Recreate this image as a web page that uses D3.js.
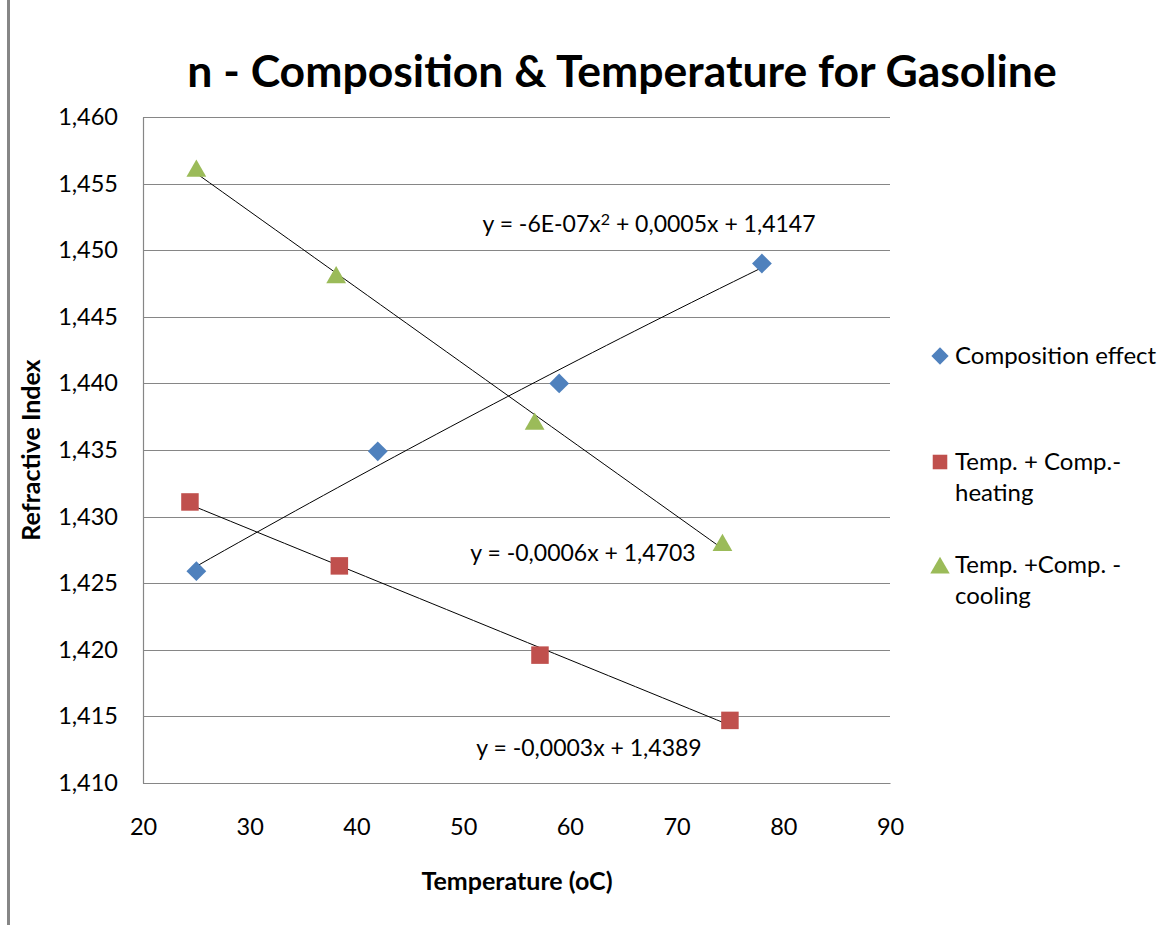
<!DOCTYPE html>
<html>
<head>
<meta charset="utf-8">
<script src="https://cdn.jsdelivr.net/npm/d3@7"></script>
<style>
  html, body { margin: 0; padding: 0; background: #fff; }
  svg { display: block; font-family: Lato, "Open Sans", sans-serif; }
</style>
</head>
<body>
<svg id="chart" width="1162" height="925"></svg>
<script>
// Refractive index of gasoline vs temperature, three series
const compTemp   = [25, 42, 59, 78];
const compIndex  = [1.4259, 1.4349, 1.4400, 1.4490];
const heatTemp   = [24.4, 38.4, 57.2, 75.0];
const heatIndex  = [1.4311, 1.4263, 1.4196, 1.4147];
const coolTemp   = [25.0, 38.1, 56.7, 74.3];
const coolIndex  = [1.4561, 1.4481, 1.4371, 1.4280];

const seriesNames  = ["Composition effect", "Temp. + Comp.-\nheating", "Temp. +Comp. -\ncooling"];
const trendDegree  = [2, 1, 1];
// equation text split into [text, superscript] pieces
const trendLabels  = [
  [["y = -6E-07x", false], ["2", true], [" + 0,0005x + 1,4147", false]],
  [["y = -0,0003x + 1,4389", false]],
  [["y = -0,0006x + 1,4703", false]]
];
const xTicks = [20, 30, 40, 50, 60, 70, 80, 90];
const yTicks = [1.410, 1.415, 1.420, 1.425, 1.430, 1.435, 1.440, 1.445, 1.450, 1.455, 1.460];

const colors  = ["#4F81BD", "#C0504D", "#9BBB59"];
const symbols = [d3.symbolDiamond2, d3.symbolSquare2, d3.symbolTriangle2];

const series = [
  { name: seriesNames[0], xs: compTemp, ys: compIndex, deg: trendDegree[0], eq: trendLabels[0] },
  { name: seriesNames[1], xs: heatTemp, ys: heatIndex, deg: trendDegree[1], eq: trendLabels[1] },
  { name: seriesNames[2], xs: coolTemp, ys: coolIndex, deg: trendDegree[2], eq: trendLabels[2] }
];

const svg = d3.select("#chart");
const plot = { left: 143, right: 890, top: 117, bottom: 783 };

const x = d3.scaleLinear().domain([20, 90]).range([plot.left, plot.right]);
const y = d3.scaleLinear().domain([1.410, 1.460]).range([plot.bottom, plot.top]);
const fmtY = v => d3.format(".3f")(v).replace(".", ",");

// chart-area edge on the left
svg.append("line")
  .attr("x1", 8.5).attr("x2", 8.5).attr("y1", 0).attr("y2", 925)
  .attr("stroke", "#868686").attr("stroke-width", 3);

// title
svg.append("text")
  .attr("x", 622).attr("y", 87)
  .attr("text-anchor", "middle")
  .attr("font-size", 44.5).attr("font-weight", "bold")
  .text("n - Composition & Temperature for Gasoline");

// horizontal gridlines
svg.append("g").selectAll("line").data(yTicks).join("line")
  .attr("x1", plot.left).attr("x2", plot.right)
  .attr("y1", d => Math.round(y(d)) + 0.5).attr("y2", d => Math.round(y(d)) + 0.5)
  .attr("stroke", "#868686").attr("stroke-width", 1.2);

// y axis
const yAxis = d3.axisLeft(y).tickValues(yTicks).tickFormat(fmtY).tickSize(0).tickPadding(25);
const gy = svg.append("g").attr("transform", `translate(${plot.left},0)`).call(yAxis);
gy.select(".domain").attr("stroke", "#868686").attr("stroke-width", 1.2);
gy.selectAll("text").attr("font-size", 23.5).attr("font-family", "Lato").attr("fill", "#000");

// x axis
const xAxis = d3.axisBottom(x).tickValues(xTicks).tickFormat(d3.format("d")).tickSize(0).tickPadding(35);
const gx = svg.append("g").attr("transform", `translate(0,${plot.bottom})`).call(xAxis);
gx.select(".domain").attr("stroke", "#868686").attr("stroke-width", 1.2);
gx.selectAll("text").attr("font-size", 23.5).attr("font-family", "Lato").attr("fill", "#000");

// axis titles
svg.append("text")
  .attr("transform", "translate(40,450) rotate(-90)")
  .attr("text-anchor", "middle")
  .attr("font-size", 25).attr("font-weight", "bold")
  .text("Refractive Index");
svg.append("text")
  .attr("x", 517).attr("y", 890)
  .attr("text-anchor", "middle")
  .attr("font-size", 25).attr("font-weight", "bold")
  .text("Temperature (oC)");

// least-squares polynomial fit
function polyfit(xs, ys, deg) {
  const n = deg + 1;
  const A = Array.from({ length: n }, () => new Array(n + 1).fill(0));
  for (let r = 0; r < n; r++) {
    for (let c = 0; c < n; c++) A[r][c] = d3.sum(xs, v => Math.pow(v, r + c));
    A[r][n] = d3.sum(xs, (v, i) => ys[i] * Math.pow(v, r));
  }
  for (let i = 0; i < n; i++) {
    let p = i;
    for (let k = i + 1; k < n; k++) if (Math.abs(A[k][i]) > Math.abs(A[p][i])) p = k;
    [A[i], A[p]] = [A[p], A[i]];
    for (let k = i + 1; k < n; k++) {
      const f = A[k][i] / A[i][i];
      for (let c = i; c <= n; c++) A[k][c] -= f * A[i][c];
    }
  }
  const coef = new Array(n).fill(0);
  for (let i = n - 1; i >= 0; i--) {
    let s = A[i][n];
    for (let c = i + 1; c < n; c++) s -= A[i][c] * coef[c];
    coef[i] = s / A[i][i];
  }
  return v => coef.reduce((acc, a, i) => acc + a * Math.pow(v, i), 0);
}

// trendlines
const line = d3.line().x(d => x(d[0])).y(d => y(d[1]));
series.forEach(s => {
  const f = polyfit(s.xs, s.ys, s.deg);
  const [x0, x1] = d3.extent(s.xs);
  const pts = d3.range(0, 41).map(i => { const v = x0 + (x1 - x0) * i / 40; return [v, f(v)]; });
  svg.append("path").datum(pts).attr("d", line)
    .attr("fill", "none").attr("stroke", "#000").attr("stroke-width", 1);
});

// markers
series.forEach((s, i) => {
  const sym = d3.symbol().type(symbols[i]).size(i === 0 ? 250 : i === 1 ? 390 : 280);
  svg.append("g").selectAll("path").data(s.xs.map((v, k) => [v, s.ys[k]])).join("path")
    .attr("transform", d => `translate(${x(d[0])},${y(d[1]) + (i === 2 ? 2 : 0)})`)
    .attr("d", sym)
    .attr("fill", colors[i]);
});

// trendline equations
const eqPos = [[649, 224], [589, 748], [583, 553]];
series.forEach((s, i) => {
  const t = svg.append("text")
    .attr("x", eqPos[i][0]).attr("y", eqPos[i][1])
    .attr("dy", "0.35em")
    .attr("text-anchor", "middle")
    .attr("font-size", 23);
  s.eq.forEach(([txt, sup]) => {
    const ts = t.append("tspan").text(txt);
    if (sup) ts.attr("font-size", 16).attr("baseline-shift", "45%");
  });
});

// legend
const legendRows = [356, 462, 565];
series.forEach((s, i) => {
  const g = svg.append("g").attr("transform", `translate(940,${legendRows[i]})`);
  g.append("path")
    .attr("d", d3.symbol().type(symbols[i]).size(i === 0 ? 190 : 270)())
    .attr("transform", i === 2 ? "translate(0,3)" : null)
    .attr("fill", colors[i]);
  const lines = s.name.split("\n");
  g.append("text")
    .attr("x", 15).attr("font-size", 24)
    .selectAll("tspan").data(lines).join("tspan")
    .attr("x", 15).attr("y", (d, k) => k * 31).attr("dy", "0.35em")
    .text(d => d);
});
</script>
</body>
</html>
